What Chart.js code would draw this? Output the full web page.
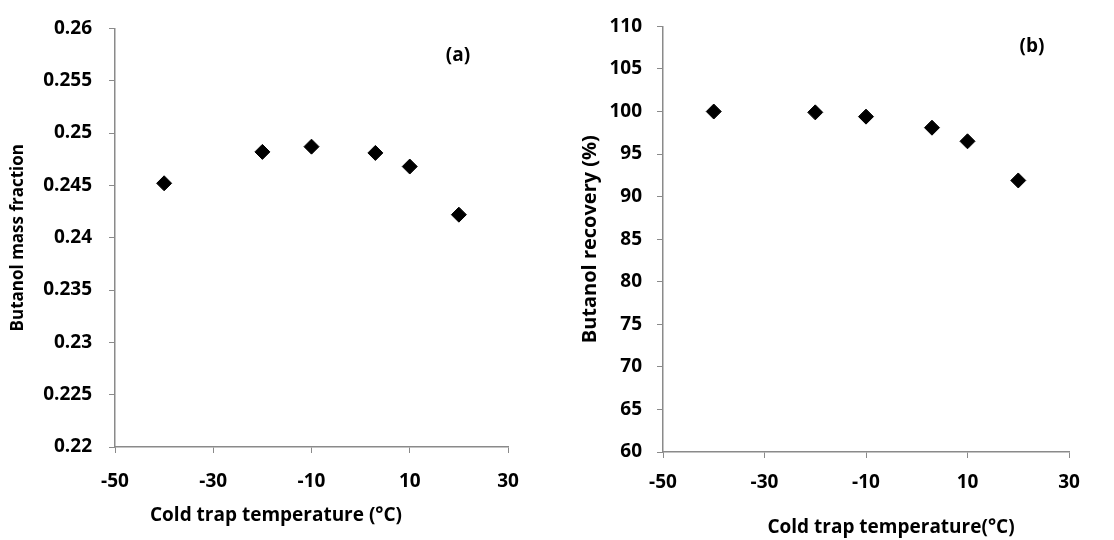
<html>
<head>
<script src="https://cdn.jsdelivr.net/npm/chart.js@4.4.1/dist/chart.umd.min.js"></script>
<style>
  body { margin:0; background:#fff; }
  .panel { position:absolute; top:0; width:557px; height:540px; }
  #left { left:0; }
  #right { left:557px; }
</style>
</head>
<body>
<div class="panel" id="left"><canvas id="chartA" width="557" height="540"></canvas></div>
<div class="panel" id="right"><canvas id="chartB" width="557" height="540"></canvas></div>
<script>
// data
const temps = [-40, -20, -10, 3, 10, 20];
const massFraction = [0.2452, 0.2482, 0.2487, 0.2481, 0.2468, 0.2422];
const recovery = [100.0, 99.9, 99.4, 98.1, 96.5, 91.9];
const xTicks = [-50, -30, -10, 10, 30];

const FONT = 'Open Sans';
const axisGrey = '#8a8a8a';

// draws the panel tag and the x axis title
const panelText = {
  id: 'panelText',
  afterDraw(chart, args, opts) {
    const ctx = chart.ctx, a = chart.chartArea;
    ctx.save();
    ctx.fillStyle = '#000';
    ctx.textAlign = 'center';
    ctx.textBaseline = 'middle';
    ctx.font = 'bold 19px "' + FONT + '"';
    ctx.fillText(opts.tag, a.right - opts.tagDx, a.top + opts.tagDy);
    ctx.fillText(opts.xTitle, a.left + opts.titleDx, a.bottom + opts.titleDy);
    ctx.restore();
  }
};

function makeChart(id, values, yMin, yMax, yStep, yTitle, cfg) {
  return new Chart(document.getElementById(id), {
    type: 'scatter',
    data: {
      datasets: [{
        data: temps.map((t, i) => ({x: t, y: values[i]})),
        pointStyle: 'rectRot',
        pointRadius: 7.5,
        backgroundColor: '#000',
        borderColor: '#000',
        borderWidth: 1
      }]
    },
    options: {
      responsive: false,
      animation: false,
      layout: { padding: cfg.padding },
      plugins: {
        legend: { display: false },
        tooltip: { enabled: false },
        panelText: cfg.text
      },
      scales: {
        x: {
          type: 'linear', min: -50, max: 30,
          afterBuildTicks: s => { s.ticks = xTicks.map(v => ({value: v})); },
          afterFit: s => { s.height = cfg.xHeight; },
          border: { color: axisGrey, width: 1.5 },
          grid: { drawOnChartArea: false, color: axisGrey, tickLength: 6 },
          ticks: { color: '#000', padding: cfg.xPad, maxRotation: 0, font: { family: FONT, size: 19, weight: 'bold' } }
        },
        y: {
          min: yMin, max: yMax,
          afterFit: s => { s.width = cfg.yWidth; },
          border: { color: axisGrey, width: 1.5 },
          grid: { drawOnChartArea: false, color: axisGrey, tickLength: 6 },
          ticks: {
            stepSize: yStep, color: '#000', padding: cfg.yPad,
            font: { family: FONT, size: 19, weight: 'bold' },
            callback: v => String(parseFloat(v.toFixed(3)))
          },
          title: {
            display: true, text: yTitle, color: '#000',
            padding: { top: cfg.yTitleTop, bottom: 0 },
            font: { family: FONT, size: cfg.yTitleSize, weight: 'bold' }
          }
        }
      }
    },
    plugins: [panelText]
  });
}

makeChart('chartA', massFraction, 0.22, 0.26, 0.005, 'Butanol mass fraction', {
  padding: { left: 0, top: 22, right: 49, bottom: 0 },
  xHeight: 93, yWidth: 115, xPad: 17, yPad: 17, yTitleTop: 8, yTitleSize: 17,
  text: { tag: '(a)', tagDx: 50, tagDy: 27, xTitle: 'Cold trap temperature (\u00B0C)', titleDx: 161, titleDy: 69 }
});

makeChart('chartB', recovery, 60, 110, 5, 'Butanol recovery (%)', {
  padding: { left: 0, top: 22, right: 45, bottom: 0 },
  xHeight: 88, yWidth: 106, xPad: 13, yPad: 15, yTitleTop: 21, yTitleSize: 20,
  text: { tag: '(b)', tagDx: 37, tagDy: 20, xTitle: 'Cold trap temperature(\u00B0C)', titleDx: 228, titleDy: 76 }
});
</script>
</body>
</html>
